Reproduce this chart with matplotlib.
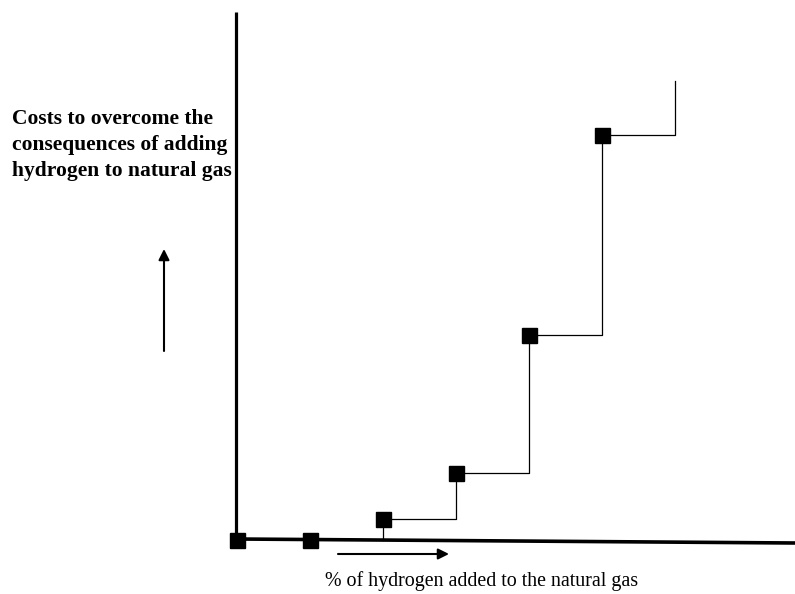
import matplotlib
matplotlib.use("Agg")
import matplotlib.pyplot as plt

# step chart: cost vs % hydrogen (schematic, no ticks)
steps = [0, 1, 2, 3, 4, 5]
costs = [0, 0, 21, 67, 205, 405]
cost_end = 459  # where the last riser stops

W, H = 795, 594
fig = plt.figure(figsize=(W / 100, H / 100), dpi=100)
ax = fig.add_axes([0, 0, 1, 1])
ax.set_xlim(-237 / 73.0, (W - 237) / 73.0)
ax.set_ylim(-(H - 540), 540)
ax.axis("off")

# axes drawn by hand (horizontal one slightly sloping like the original)
ax.plot([-0.01, -0.01], [-7, 528], color="black", lw=2.3, solid_capstyle="butt")
ax.plot([-0.01, (W - 237) / 73.0], [1, -3], color="black", lw=2.6, solid_capstyle="butt")

# step line, vertical first then horizontal
sx = [steps[2]] + steps[2:] + [steps[-1] + 1]
sy = [0] + costs[2:] + [cost_end]
ax.step(sx, sy, where="post", color="black", lw=0.9)

ax.plot(steps, costs, "s", color="black", markersize=10.8, clip_on=False, zorder=5)

serif = ["Liberation Serif", "DejaVu Serif"]
fig.text(12 / W, 1 - 145 / H,
         "Costs to overcome the\nconsequences of adding\nhydrogen to natural gas",
         fontsize=15.5, fontweight="bold", family=serif, va="center", ha="left",
         linespacing=1.4)
fig.text(482 / W, 1 - 581 / H, "% of hydrogen added to the natural gas",
         fontsize=14.4, family=serif, ha="center", va="center")

# direction arrows
ax.annotate("", xy=(164, H - 249), xytext=(164, H - 351),
            xycoords="figure pixels", textcoords="figure pixels",
            arrowprops=dict(arrowstyle="-|>", color="black", lw=1.5,
                            mutation_scale=16, shrinkA=0, shrinkB=0))
ax.annotate("", xy=(449, H - 554), xytext=(338, H - 554),
            xycoords="figure pixels", textcoords="figure pixels",
            arrowprops=dict(arrowstyle="-|>", color="black", lw=1.5,
                            mutation_scale=16, shrinkA=0, shrinkB=0))

fig.savefig("out.png", dpi=100)
